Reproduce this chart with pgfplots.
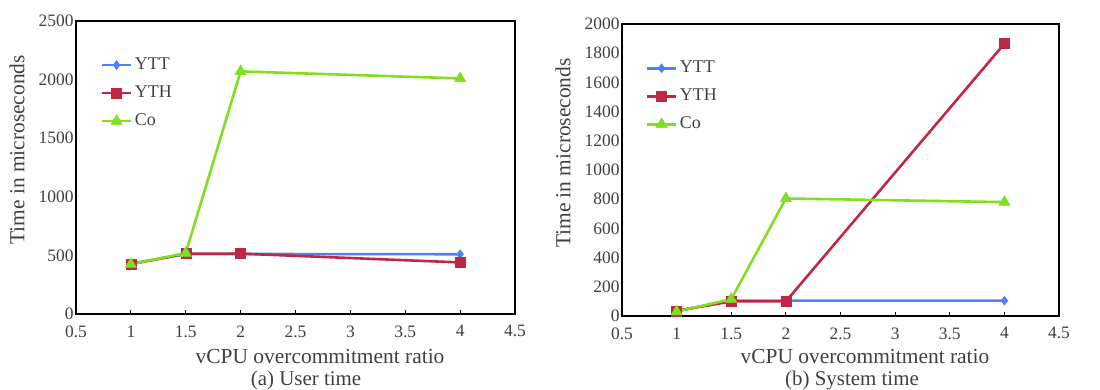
\documentclass[border=0pt]{standalone}
\usepackage{fontspec}
\setmainfont{Liberation Serif}
\usepackage{pgfplots}
\pgfplotsset{compat=1.18}
\definecolor{cytt}{HTML}{4F81FF}
\definecolor{cyth}{HTML}{C02646}
\definecolor{cco}{HTML}{80E020}
\definecolor{txtgray}{HTML}{404040}
\pgfplotsset{
  myaxis/.style={
    scale only axis, anchor=south west,
    xmin=0.5, xmax=4.5,
    xtick={0.5,1,1.5,2,2.5,3,3.5,4,4.5},
    tick align=inside, xtick pos=bottom, ytick pos=left,
    major tick length=4bp,
    axis line style={line width=1.3bp, black},
    xtick style={black, line width=0.8bp},
    ytick style={draw=none},
    tick label style={font=\fontsize{17.5}{17.5}\selectfont, text=txtgray},
    /pgf/number format/assume math mode=true,
    /pgf/number format/1000 sep={},
    xticklabel style={yshift=-8bp},
    yticklabel style={xshift=1bp},
    label style={font=\fontsize{21.5}{21.5}\selectfont, text=txtgray, inner sep=0pt},
    ylabel style={anchor=center},
    xlabel style={anchor=center},
    xlabel={vCPU overcommitment ratio},
    ylabel={Time in microseconds},
    legend cell align=left,
    legend style={draw=none, fill=none, inner sep=0pt, anchor=north west,
      font=\fontsize{18}{18}\selectfont, text=txtgray,
      nodes={inner xsep=2.5bp, inner ysep=7bp, text height=11bp, text depth=3bp}},
    legend image code/.code={\draw[mark repeat=2,mark phase=2,##1] plot coordinates {(0bp,0bp)(14.5bp,0bp)(29bp,0bp)};},
    every axis plot/.append style={line width=2.6bp},
  },
  ytt/.style={color=cytt, mark=diamond*, mark size=4.5bp, mark options={solid, line width=0.5bp}},
  yth/.style={color=cyth, mark=square*, mark size=5bp, mark options={solid, line width=0.5bp}},
  co/.style={color=cco, mark=triangle*, mark size=6.5bp, mark options={solid, line width=0.5bp}},
}
\begin{document}
\begin{tikzpicture}
\begin{axis}[myaxis,
  at={(76bp,76bp)}, width=439bp, height=293bp,
  ymin=0, ymax=2500, ytick={0,500,1000,1500,2000,2500},
  xlabel style={at={(axis description cs:0.556,-0.146)}},
  ylabel style={at={(axis description cs:-0.134,0.56)}},
  legend style={at={(axis description cs:0.056,0.898)}},
]
\addplot[ytt] coordinates {(1,430) (1.5,510) (2,512) (4,510)};
\addplot[yth] coordinates {(1,425) (1.5,515) (2,515) (4,440)};
\addplot[co] coordinates {(1,425) (1.5,520) (2,2070) (4,2010)};
\legend{YTT,YTH,Co}
\end{axis}
\begin{axis}[myaxis,
  at={(622bp,74bp)}, width=437bp, height=292bp,
  ymin=0, ymax=2000, ytick={0,200,400,600,800,1000,1200,1400,1600,1800,2000},
  xlabel style={at={(axis description cs:0.556,-0.140)}},
  ylabel style={at={(axis description cs:-0.135,0.558)}},
  legend style={at={(axis description cs:0.054,0.897)}},
]
\addplot[ytt] coordinates {(1,35) (1.5,105) (2,105) (4,105)};
\addplot[yth] coordinates {(1,35) (1.5,100) (2,100) (4,1865)};
\addplot[co] coordinates {(1,30) (1.5,115) (2,805) (4,780)};
\legend{YTT,YTH,Co}
\end{axis}
\node[font=\fontsize{21}{21}\selectfont, text=txtgray, inner sep=0pt] at (306bp,10bp) {(a) User time};
\node[font=\fontsize{21}{21}\selectfont, text=txtgray, inner sep=0pt] at (852bp,10bp) {(b) System time};
\pgfresetboundingbox
\useasboundingbox (0bp,0bp) rectangle (1100bp,390bp);
\end{tikzpicture}
\end{document}
